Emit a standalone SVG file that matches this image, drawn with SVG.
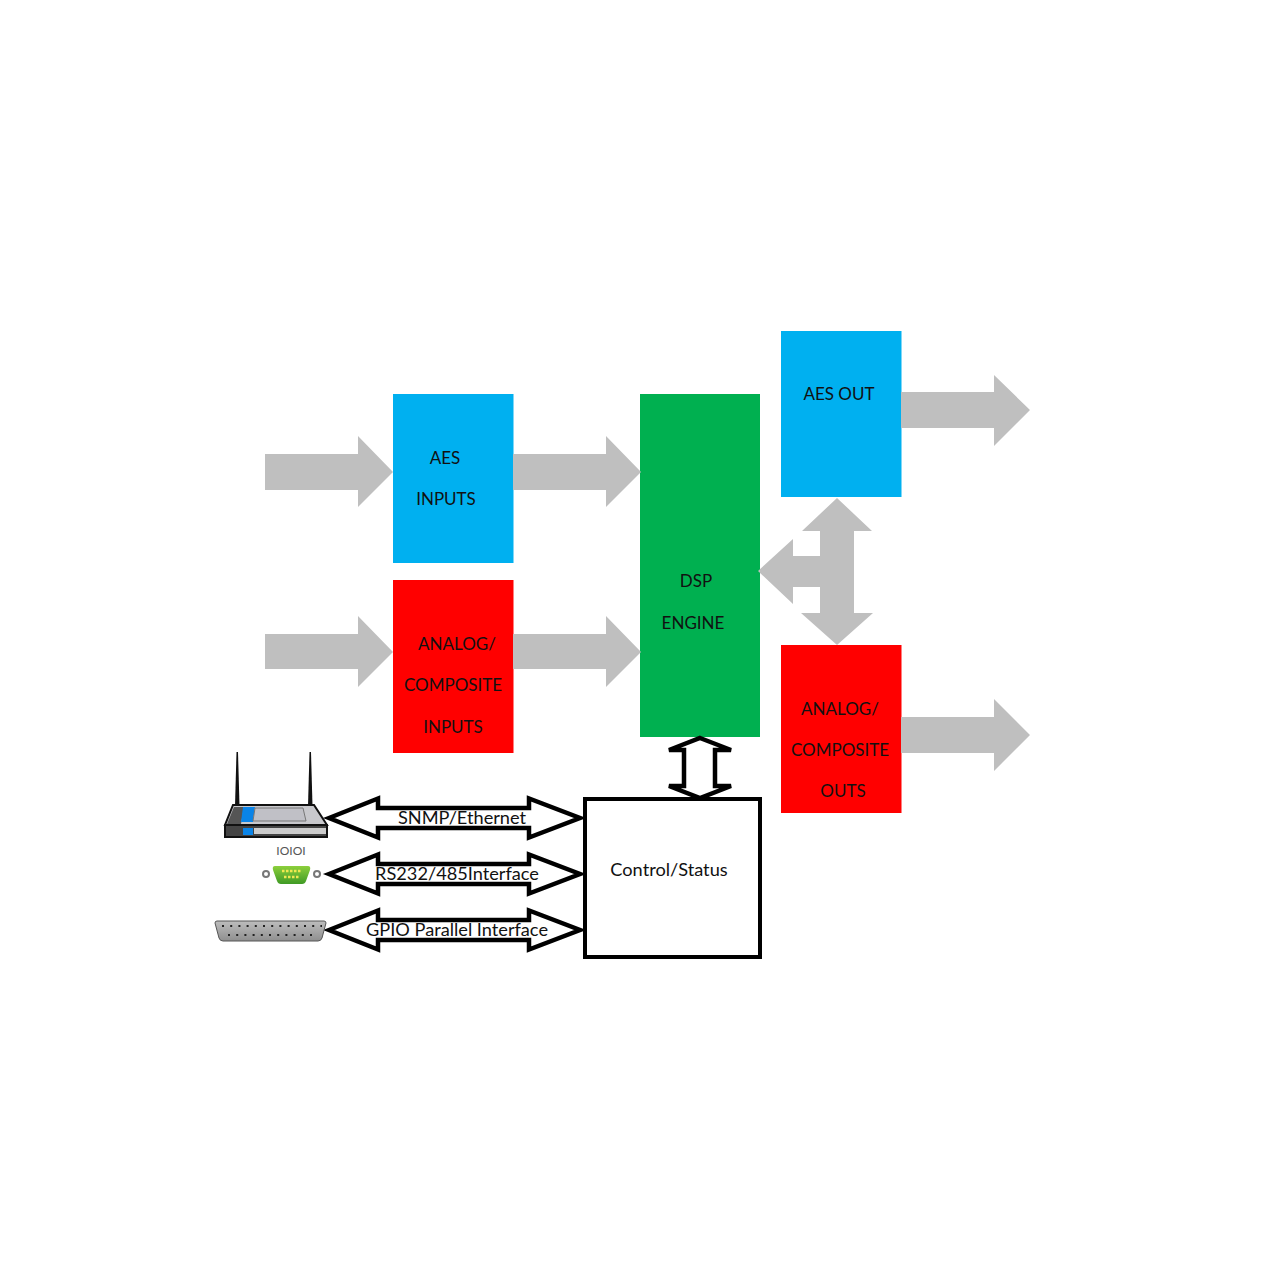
<svg xmlns="http://www.w3.org/2000/svg" width="1280" height="1280" viewBox="0 0 1280 1280">
<style>
text{font-family:"Lato","Open Sans","Liberation Sans",sans-serif;font-size:18.2px;fill:#111;text-anchor:middle}
text.c{font-size:17px}
.g{fill:#bfbfbf}
.b{fill:#00b0f0}.r{fill:#ff0000}.gr{fill:#00b050}
.o{fill:#fff;stroke:#000;stroke-width:4.5px}
</style>
<defs>
<linearGradient id="db9" x1="0" y1="0" x2="0" y2="1"><stop offset="0" stop-color="#8ccf3c"/><stop offset="1" stop-color="#3f9a25"/></linearGradient>
<linearGradient id="db25" x1="0" y1="0" x2="0" y2="1"><stop offset="0" stop-color="#bdbdbd"/><stop offset="1" stop-color="#8f8f8f"/></linearGradient>
</defs>
<rect width="1280" height="1280" fill="#fff"/>
<g id="aes-inputs"><rect class="b" x="393" y="394" width="120.500" height="169"/><text class="c" x="445" y="464">AES</text><text class="c" x="446" y="505">INPUTS</text></g>
<g id="analog-inputs"><rect class="r" x="393" y="580" width="120.500" height="173"/><text class="c" x="457" y="650">ANALOG/</text><text class="c" x="453" y="691">COMPOSITE</text><text class="c" x="453" y="733">INPUTS</text></g>
<g id="dsp-engine"><rect class="gr" x="640" y="394" width="120" height="343"/><text class="c" x="696" y="587">DSP</text><text class="c" x="693" y="629">ENGINE</text></g>
<g id="aes-out"><rect class="b" x="781" y="331" width="120.500" height="166"/><text class="c" x="839" y="400">AES OUT</text></g>
<g id="analog-outs"><rect class="r" x="781" y="645" width="120.500" height="168"/><text class="c" x="840" y="715">ANALOG/</text><text class="c" x="840" y="756">COMPOSITE</text><text class="c" x="843" y="797">OUTS</text></g>
<g id="control-status"><rect x="585" y="799" width="175" height="158" fill="#fff" stroke="#000" stroke-width="4"/><text x="669" y="876">Control/Status</text></g>
<g id="connectors">
<polygon class="g" points="265,454 358,454 358,436 393,472 358,507 358,490 265,490"/>
<polygon class="g" points="513,454 606,454 606,436 641,472 606,507 606,490 513,490"/>
<polygon class="g" points="265,634 358,634 358,616 393,652 358,687 358,669 265,669"/>
<polygon class="g" points="513,634 606,634 606,616 641,652 606,687 606,669 513,669"/>
<polygon class="g" points="901,392 994,392 994,375 1030,410 994,446 994,428 901,428"/>
<polygon class="g" points="901,717 994,717 994,699 1030,735 994,771 994,753 901,753"/>
<polygon class="g" points="837,498 872,531 854,531 854,613 873,613 837,645 801,613 820,613 820,587 793,587 793,604 758,571 793,539 793,556 820,556 820,531 802,531"/>
<polygon class="o" points="700,738 731,750 715,750 715,786 731,786 700,798 669,786 684,786 684,750 669,750"/>
<polygon class="o" points="329,818 378,798.500 378,808 529,808 529,798.500 580,818 529,837.500 529,828 378,828 378,837.500"/>
<polygon class="o" points="329,874 378,854.500 378,864 529,864 529,854.500 580,874 529,893.500 529,884 378,884 378,893.500"/>
<polygon class="o" points="329,930 378,910.500 378,920 529,920 529,910.500 580,930 529,949.500 529,940 378,940 378,949.500"/>
</g>
<g id="labels">
<text x="462" y="824">SNMP/Ethernet</text>
<text x="457" y="880">RS232/485Interface</text>
<text x="457" y="936">GPIO Parallel Interface</text>
</g>
<g id="router">
<polygon points="236.500,752 238,752 239.500,806 235,806" fill="#111"/>
<polygon points="309.500,752 311,752 312.500,806 308,806" fill="#111"/>
<polygon points="233,805 314,805 327,825 225,825" fill="#c8c8cc" stroke="#111" stroke-width="2"/>
<polygon points="234,807 244,807 241,824 227,824" fill="#555"/>
<polygon points="243,807 255,807 253,822 241,822" fill="#0a84e8"/>
<polygon points="255,808 303,808 306,821 253,821" fill="#c0c0c6" stroke="#777"/>
<rect x="225" y="825" width="102" height="12" fill="#444" stroke="#111" stroke-width="2"/>
<rect x="254" y="828" width="72" height="6" fill="#ccc"/>
<rect x="243" y="828" width="10" height="7" fill="#0a84e8"/>
</g>
<g id="serial-port">
<text x="291" y="855" style="font-size:12px;fill:#555">IOIOI</text>
<circle cx="266" cy="874" r="3" fill="#fff" stroke="#777" stroke-width="2"/>
<circle cx="317" cy="874" r="3" fill="#fff" stroke="#777" stroke-width="2"/>
<path d="M275 866H308Q311 866 310 870L306 881Q305 884 302 884H281Q278 884 277 881L273 870Q272 866 275 866Z" fill="url(#db9)"/>
<path d="M282 871H302M284 877H300" stroke="#f0e850" stroke-width="2.500" stroke-dasharray="2.500 1.500"/>
</g>
<g id="parallel-port">
<path d="M217 921H324Q326 921 326 923L322 938Q321 941 318 941H223Q220 941 219 938L215 923Q215 921 217 921Z" fill="url(#db25)" stroke="#555"/>
<path d="M222 926H322M228 935H316" stroke="#222" stroke-width="2" stroke-dasharray="2 6.200"/>
</g>
</svg>
